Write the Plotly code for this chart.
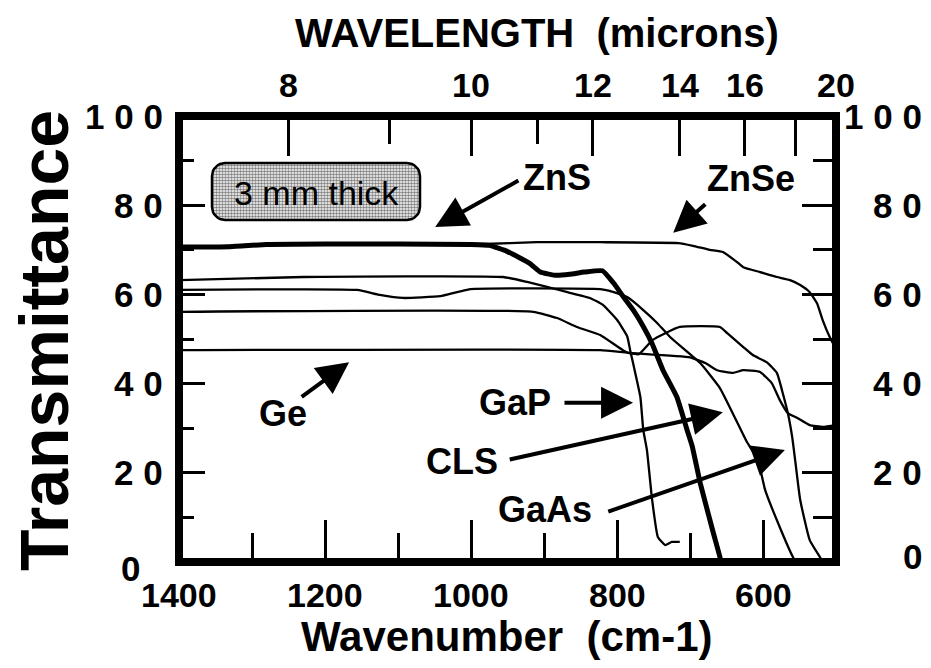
import math
import plotly.graph_objects as go

# Transmittance (%) of 3 mm thick infrared window materials vs wavenumber (cm-1)
zns_wn = [1400, 1330, 1280, 1200, 1100, 1000, 975, 950, 920, 905, 885, 865, 845, 820, 805, 791, 777, 764, 752, 737, 718, 704, 697, 686, 668, 659, 655]
zns_t = [70.6, 70.7, 71.2, 71.3, 71.3, 71.2, 71.0, 69.6, 67.0, 65.0, 64.3, 64.5, 65.0, 65.3, 62.6, 59.4, 56.3, 52.8, 49.0, 43.0, 37.0, 29.6, 26.0, 17.7, 6.5, 1.1, -2.5]

znse_wn = [1400, 1330, 1280, 1200, 1100, 983, 910, 823, 716, 696, 673, 655, 636, 627, 604, 581, 563, 549, 536, 526, 518, 508, 500]
znse_t = [70.8, 70.9, 71.3, 71.4, 71.4, 71.3, 71.7, 71.7, 71.5, 70.9, 70.0, 69.5, 67.3, 66.1, 65.0, 63.9, 63.2, 62.1, 60.5, 58.0, 54.1, 50.2, 47.8]

gap_wn = [1400, 1230, 956, 923, 896, 868, 837, 819, 800, 786, 782, 778, 768, 764, 759, 752, 744, 734, 725, 714]
gap_t = [63.2, 63.9, 63.9, 62.8, 61.7, 60.5, 59.2, 57.6, 54.3, 50.6, 47.5, 44.6, 37.0, 29.6, 25.1, 14.1, 5.6, 3.8, 4.5, 4.5]

cls_wn = [1400, 1156, 1125, 1093, 1042, 1001, 823, 810, 786, 764, 745, 727, 686, 659, 641, 622, 607, 597, 577, 559, 555]
cls_t = [61.0, 61.0, 59.9, 59.2, 59.6, 61.2, 61.2, 60.8, 59.4, 56.5, 53.6, 50.4, 44.6, 39.0, 33.2, 26.9, 22.9, 16.1, 7.8, 1.1, 0.0]

gaas_wn = [1400, 915, 882, 855, 823, 792, 782, 770, 751, 714, 659, 649, 627, 614, 595, 581, 573, 566, 560, 556, 549, 536, 522, 518]
gaas_t = [56.1, 56.1, 54.7, 52.7, 50.9, 47.5, 46.8, 46.6, 49.8, 52.7, 52.7, 51.3, 48.2, 46.4, 44.8, 42.4, 37.9, 33.4, 28.0, 22.9, 13.9, 4.9, 1.1, 0.0]

ge_wn = [1400, 823, 785, 700, 679, 663, 641, 627, 604, 588, 577, 566, 553, 536, 518, 500]
ge_t = [47.5, 47.5, 46.9, 45.9, 44.6, 43.0, 42.4, 43.0, 42.6, 40.1, 36.3, 33.4, 32.3, 30.7, 30.3, 30.7]

# axis ticks and labels
wn_major = [1400, 1200, 1000, 800, 600]
wn_minor = [1300, 1100, 900, 700]
wn_labels = ["1400", "1200", "1000", "800", "600"]
lam_major = [8, 10, 12, 14, 16, 18]
lam_minor = [9, 11]
lam_labels = ["8", "10", "12", "14", "16", "20"]
lam_label_pos = [8, 10, 12, 14, 16, 20]
t_major = [0, 20, 40, 60, 80, 100]
t_minor = [10, 30, 50, 70, 90]
t_labels = ["0", "2 0", "4 0", "6 0", "8 0", "1 0 0"]

# material labels: (text, label wn, label T, arrow tail wn, tail T, arrow tip wn, tip T)
callouts = [
    ("ZnS", 882, 86.3, 933, 85.7, 1049, 75.1),
    ("ZnSe", 616, 85.9, 677, 80.5, 723, 73.8),
    ("Ge", 1258, 33.4, 1234, 36.8, 1167, 44.8),
    ("GaP", 940, 35.7, 874, 35.7, 778, 35.7),
    ("CLS", 1012, 22.6, 949, 22.9, 655, 33.6),
    ("GaAs", 899, 11.7, 814, 11.2, 570, 25.1),
]

W, H = 931, 668
PX_L, PX_R, PX_T, PX_B = 179, 836, 116, 562
WN_HI, WN_LO = 1400, 500
kx = (PX_R - PX_L) / (WN_HI - WN_LO)
ky = (PX_B - PX_T) / 100.0

BOLD = "Liberation Sans, Arial, Helvetica, sans-serif"


def px_to_data(px, py):
    return WN_HI - (px - PX_L) / kx, (PX_B - py) / ky


def paper_x(px):
    return (px - PX_L) / (PX_R - PX_L)


def paper_y(py):
    return (PX_B - py) / (PX_B - PX_T)


fig = go.Figure()

series = [
    (znse_wn, znse_t, 2.3),
    (ge_wn, ge_t, 2.3),
    (gap_wn, gap_t, 2.3),
    (cls_wn, cls_t, 2.3),
    (gaas_wn, gaas_t, 2.3),
    (zns_wn, zns_t, 5.0),
]
for wn, t, w in series:
    fig.add_trace(go.Scatter(x=wn, y=t, mode="lines", hoverinfo="skip",
                             line=dict(color="black", width=w, shape="spline", smoothing=0.4)))

# rounded, stippled "3 mm thick" box
bx0, bx1, by0, by1, rad = 212, 420, 163, 220, 13
pts = []
for cx, cy, a0 in [(bx1 - rad, by0 + rad, -90), (bx1 - rad, by1 - rad, 0),
                   (bx0 + rad, by1 - rad, 90), (bx0 + rad, by0 + rad, 180)]:
    for k in range(9):
        a = math.radians(a0 + k * 90 / 8)
        pts.append(px_to_data(cx + rad * math.cos(a), cy + rad * math.sin(a)))
pts.append(pts[0])
fig.add_trace(go.Scatter(
    x=[p[0] for p in pts], y=[p[1] for p in pts], xaxis="x2", yaxis="y2",
    mode="lines", fill="toself", hoverinfo="skip",
    line=dict(color="black", width=2.5),
    fillcolor="white",
    fillpattern=dict(shape=".", size=3, solidity=0.55, fgcolor="black", bgcolor="white"),
))
bcx, bcy = px_to_data((bx0 + bx1) / 2, (by0 + by1) / 2 + 1)

annotations = [dict(x=bcx, y=bcy, xref="x", yref="y", xanchor="center", yanchor="middle",
                    text="3 mm thick", showarrow=False,
                    font=dict(family=BOLD, size=34, color="black"))]

for name, lx, ly, tx, ty, hx, hy in callouts:
    annotations.append(dict(x=lx, y=ly, xref="x", yref="y", xanchor="center", yanchor="middle",
                            text="<b>%s</b>" % name, showarrow=False,
                            font=dict(family=BOLD, size=36, color="black")))
    annotations.append(dict(x=hx, y=hy, xref="x", yref="y", ax=tx, ay=ty, axref="x", ayref="y",
                            text="", showarrow=True, arrowhead=2, arrowsize=1.6, arrowwidth=4,
                            arrowcolor="black", standoff=0))

# tick labels
for v, s in zip(wn_major, wn_labels):
    annotations.append(dict(x=v, y=paper_y(595), xref="x", yref="paper",
                            xanchor="center", yanchor="middle",
                            text="<b>%s</b>" % s, showarrow=False,
                            font=dict(family=BOLD, size=34, color="black")))
for v, s in zip(lam_label_pos, lam_labels):
    annotations.append(dict(x=1e4 / v, y=paper_y(85), xref="x", yref="paper",
                            xanchor="center", yanchor="middle",
                            text="<b>%s</b>" % s, showarrow=False,
                            font=dict(family=BOLD, size=34, color="black")))
for v, s in zip(t_major, t_labels):
    left_px, left_dy = (142, 6) if v == 0 else (165, 0)
    right_dy = -6 if v == 0 else 0
    annotations.append(dict(x=paper_x(left_px), y=paper_y(PX_B - v * ky + left_dy),
                            xref="paper", yref="paper", xanchor="right", yanchor="middle",
                            text="<b>%s</b>" % s, showarrow=False,
                            font=dict(family=BOLD, size=35, color="black")))
    annotations.append(dict(x=paper_x(924), y=paper_y(PX_B - v * ky + right_dy),
                            xref="paper", yref="paper", xanchor="right", yanchor="middle",
                            text="<b>%s</b>" % s, showarrow=False,
                            font=dict(family=BOLD, size=35, color="black")))

# axis titles
annotations.append(dict(x=paper_x(537), y=paper_y(33), xref="paper", yref="paper",
                        xanchor="center", yanchor="middle",
                        text="<b>WAVELENGTH  (microns)</b>",
                        showarrow=False, font=dict(family=BOLD, size=40, color="black")))
annotations.append(dict(x=paper_x(507), y=paper_y(636), xref="paper", yref="paper",
                        xanchor="center", yanchor="middle",
                        text="<b>Wavenumber  (cm-1)</b>",
                        showarrow=False, font=dict(family=BOLD, size=42, color="black")))
annotations.append(dict(x=paper_x(44), y=paper_y(341), xref="paper", yref="paper",
                        xanchor="center", yanchor="middle",
                        text="<b>Transmittance</b>", textangle=-90,
                        showarrow=False, font=dict(family=BOLD, size=68, color="black")))

common = dict(showgrid=False, zeroline=False, showline=False, showticklabels=False,
              ticks="inside", tickcolor="black", tickwidth=3)

fig.update_layout(
    width=W, height=H,
    margin=dict(l=PX_L, r=W - PX_R, t=PX_T, b=H - PX_B, pad=0),
    paper_bgcolor="white", plot_bgcolor="white", showlegend=False,
    xaxis=dict(range=[WN_HI, WN_LO], tickvals=wn_major, ticklen=42,
               minor=dict(tickvals=wn_minor, ticklen=29, ticks="inside", tickcolor="black", tickwidth=3),
               **common),
    xaxis2=dict(range=[WN_HI, WN_LO], overlaying="x", side="top", anchor="y",
                tickvals=[1e4 / v for v in lam_major], ticklen=40,
                minor=dict(tickvals=[1e4 / v for v in lam_minor], ticklen=28, ticks="inside",
                           tickcolor="black", tickwidth=3),
                **common),
    yaxis=dict(range=[0, 100], tickvals=t_major[1:-1], ticklen=26,
               minor=dict(tickvals=t_minor, ticklen=15, ticks="inside", tickcolor="black", tickwidth=3),
               **common),
    yaxis2=dict(range=[0, 100], overlaying="y", side="right", anchor="x",
                tickvals=t_major[1:-1], ticklen=34,
                minor=dict(tickvals=t_minor, ticklen=23, ticks="inside", tickcolor="black", tickwidth=3),
                **common),
    annotations=annotations,
    shapes=[dict(type="rect", xref="paper", yref="paper", x0=0, x1=1, y0=0, y1=1,
                 line=dict(color="black", width=8), layer="above")],
)

fig.write_html("out.html")
